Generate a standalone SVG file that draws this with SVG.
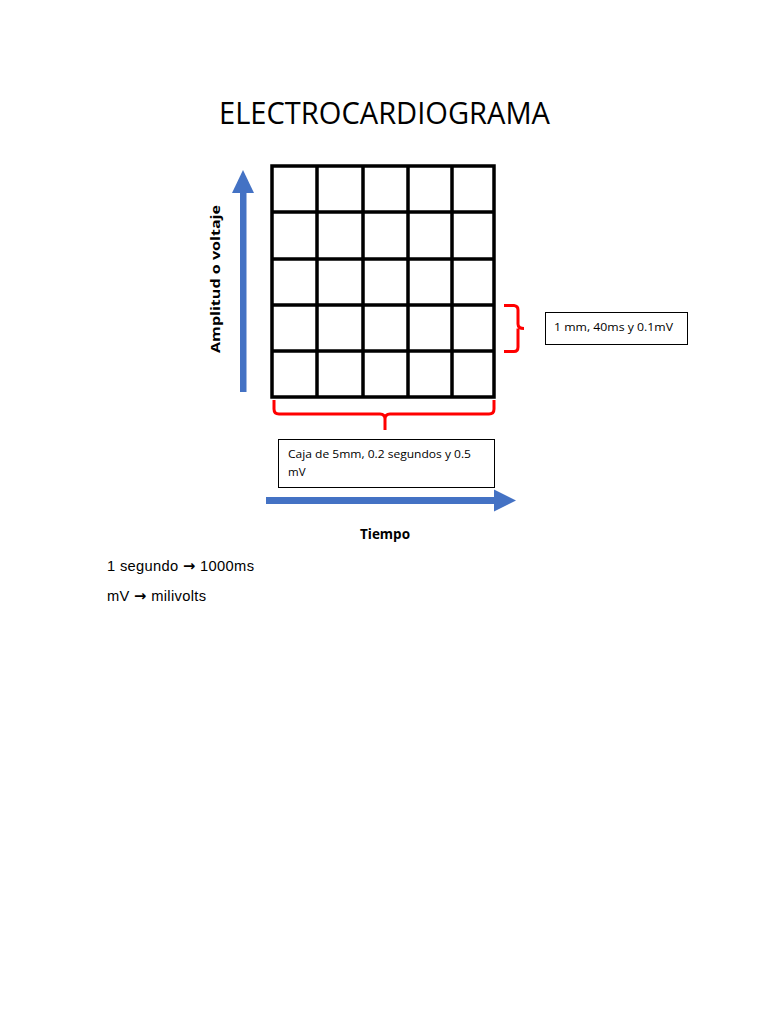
<svg xmlns="http://www.w3.org/2000/svg" width="768" height="1024" viewBox="0 0 768 1024">
<style>
.grid{fill:none;stroke:#000;stroke-width:3.5}
.br{fill:none;stroke:#ff0000;stroke-width:3;stroke-linejoin:round}
.box{fill:#fff;stroke:#000;stroke-width:1}
.cal{font-family:"Open Sans","Liberation Sans",sans-serif;fill:#000}
.ar{font-family:"Liberation Sans",Arial,sans-serif;fill:#000;font-size:14.7px}
.arr{font-family:"DejaVu Sans",sans-serif;font-weight:bold}
.blue{fill:#4472c4}
</style>
<rect width="768" height="1024" fill="#fff"/>
<text class="cal" x="219" y="124" font-size="31" textLength="331" lengthAdjust="spacingAndGlyphs">ELECTROCARDIOGRAMA</text>
<g id="grid">
<rect class="grid" x="272" y="166" width="222" height="231"/>
<path class="grid" d="M317 166V397M363 166V397M408 166V397M452 166V397M272 212H494M272 259H494M272 305H494M272 351H494"/>
</g>
<g id="connectors">
<g id="axis-y">
<rect class="blue" x="240" y="191" width="6.5" height="201"/>
<polygon class="blue" points="243,170 254,193 232,193"/>
</g>
<g id="axis-x">
<rect class="blue" x="266" y="497" width="230" height="7"/>
<polygon class="blue" points="516,500.5 494,489.5 494,511.5"/>
</g>
<path id="brace-right" class="br" d="M504 305.5 H514 Q518 306 518 310 V324 Q518 328.5 524 328.5 M518 328.5 Q518 333 518 336 V347 Q518 351.5 514 351.5 H504"/>
<path id="brace-bottom" class="br" d="M274 400 V409 Q274 414 279 414 H380 Q385 414 385 419 V430 M385 419 Q385 414 390 414 H489 Q494 414 494 409 V400"/>
</g>
<g id="label-y">
<text class="cal" transform="translate(220,279) rotate(-90)" text-anchor="middle" font-size="13" font-weight="bold" textLength="148" lengthAdjust="spacingAndGlyphs">Amplitud o voltaje</text>
</g>
<g id="box-1mm">
<rect class="box" x="545.5" y="312.5" width="142" height="32"/>
<text class="cal" x="554" y="331" font-size="11.5" textLength="119" lengthAdjust="spacingAndGlyphs">1 mm, 40ms y 0.1mV</text>
</g>
<g id="box-5mm">
<rect class="box" x="278.5" y="439.5" width="216" height="48"/>
<text class="cal" x="288" y="458" font-size="11.5" textLength="183" lengthAdjust="spacingAndGlyphs">Caja de 5mm, 0.2 segundos y 0.5</text>
<text class="cal" x="288" y="476" font-size="11.5">mV</text>
</g>
<g id="label-x">
<text class="cal" x="385" y="539" text-anchor="middle" font-size="13.5" font-weight="bold">Tiempo</text>
</g>
<text class="ar" x="107" y="571" textLength="147" lengthAdjust="spacing">1 segundo <tspan class="arr">→</tspan> 1000ms</text>
<text class="ar" x="107" y="601" textLength="99" lengthAdjust="spacing">mV <tspan class="arr">→</tspan> milivolts</text>
</svg>
